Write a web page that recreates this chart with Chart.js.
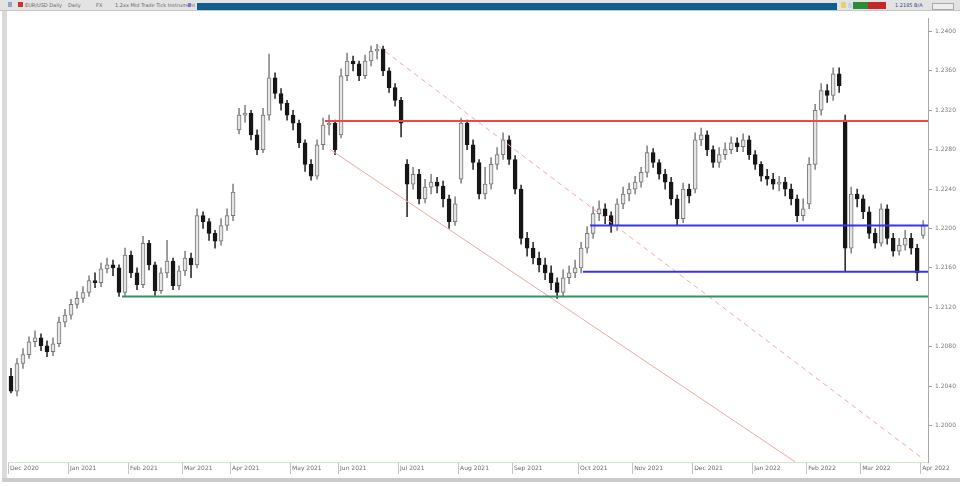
<!DOCTYPE html>
<html>
<head>
<meta charset="utf-8">
<script src="https://cdn.jsdelivr.net/npm/chart.js@4.4.1/dist/chart.umd.min.js"></script>
<style>
    body { margin: 0; width: 960px; height: 487px; background: #fff; position: relative; overflow: hidden; font-family: "DejaVu Sans", sans-serif; }
    #topbar { position: absolute; left: 0; top: 0; width: 960px; height: 10px; background: #e3e3e3; border-bottom: 1px solid #c6c6c6; }
    #topbar span { position: absolute; top: 2px; font-size: 5px; line-height: 6px; color: #666; white-space: nowrap; }
    .blk { position: absolute; }
    #leftEdge { position: absolute; left: 2px; top: 11px; width: 5px; height: 468px; background: #dadada; }
    #bottomEdge { position: absolute; left: 2px; top: 478px; width: 958px; height: 4px; background: #cbcbcb; }
    #wrap { position: absolute; left: 8px; top: 12px; width: 950px; height: 466px; }
</style>
</head>
<body>
<div id="topbar">
    <div class="blk" style="left:8px;top:2px;width:4px;height:5px;background:#8fa8c8"></div>
    <div class="blk" style="left:18px;top:2px;width:5px;height:5px;background:#d03030"></div>
    <span style="left:25px">EUR/USD Daily</span>
    <span style="left:68px">Daily</span>
    <span style="left:96px">FX</span>
    <span style="left:115px">1.2xx Mid Trade Tick Instrument</span>
    <div class="blk" style="left:188px;top:3px;width:3px;height:4px;background:#7a7acc"></div>
    <div class="blk" style="left:197px;top:3px;width:640px;height:7px;background:#0f5f8f"></div>
    <div class="blk" style="left:841px;top:2px;width:5px;height:6px;background:#e8d070"></div>
    <div class="blk" style="left:848px;top:3px;width:4px;height:5px;background:#bcd8e8"></div>
    <div class="blk" style="left:853px;top:2px;width:15px;height:7px;background:#2c8c3c"></div>
    <div class="blk" style="left:868px;top:2px;width:18px;height:7px;background:#c42828"></div>
    <span style="left:895px;color:#3a4a8a">1.2185 B/A</span>
    <div class="blk" style="left:932px;top:3px;width:20px;height:5px;border:1px solid #aaa;background:#eee"></div>
</div>
<div id="leftEdge"></div>
<div id="bottomEdge"></div>
<div id="wrap"><canvas id="chart" width="950" height="466"></canvas></div>
<script>
// prices kept in pips: 12040 = 1.2040
const opens = [
    12050,12035,12063,12072,12085,12089,12081,12075,12083,12105,
    12112,12123,12129,12135,12147,12145,12159,12163,12160,12135,
    12173,12155,12143,12185,12163,12137,12155,12167,12142,12157,
    12170,12163,12213,12207,12195,12187,12203,12213,12300,12315,
    12317,12295,12280,12315,12353,12337,12327,12315,12307,12287,
    12265,12253,12285,12305,12307,12295,12355,12370,12367,12355,
    12370,12380,12382,12360,12343,12330,12265,12245,12255,12230,
    12242,12247,12243,12230,12207,12250,12307,12285,12267,12235,
    12245,12265,12275,12290,12270,12240,12190,12180,12170,12163,
    12155,12145,12135,12150,12155,12160,12180,12195,12215,12220,
    12213,12203,12225,12235,12240,12247,12257,12277,12267,12255,
    12247,12230,12210,12240,12240,12290,12295,12280,12267,12275,
    12280,12287,12283,12290,12275,12265,12253,12250,12245,12247,
    12240,12230,12213,12225,12265,12320,12340,12335,12357,12310,
    12180,12235,12230,12217,12195,12185,12220,12190,12177,12183,
    12190,12180,12193
];
const highs = [
    12058,12068,12078,12090,12096,12093,12086,12089,12110,12118,
    12128,12136,12141,12152,12155,12165,12170,12168,12163,12180,
    12177,12160,12192,12188,12166,12160,12188,12170,12162,12177,
    12175,12220,12217,12210,12198,12210,12220,12245,12322,12325,
    12320,12300,12322,12377,12358,12342,12330,12320,12310,12290,
    12270,12290,12312,12315,12310,12362,12378,12375,12370,12376,
    12385,12387,12385,12363,12347,12333,12270,12262,12260,12250,
    12255,12252,12248,12234,12232,12312,12310,12290,12270,12262,
    12272,12282,12297,12294,12274,12244,12196,12186,12176,12170,
    12162,12150,12158,12162,12168,12186,12202,12222,12228,12225,
    12217,12230,12242,12246,12253,12262,12284,12281,12270,12260,
    12252,12234,12246,12245,12297,12302,12299,12284,12282,12287,
    12293,12292,12296,12294,12279,12268,12260,12256,12253,12252,
    12245,12234,12230,12272,12326,12347,12346,12363,12363,12315,
    12242,12240,12234,12222,12200,12225,12224,12195,12190,12198,
    12195,12184,12208
];
const lows = [
    12033,12030,12058,12068,12080,12076,12070,12071,12080,12100,
    12108,12119,12125,12131,12140,12141,12155,12152,12131,12132,
    12150,12138,12140,12158,12132,12134,12150,12138,12138,12152,
    12150,12160,12200,12188,12180,12183,12198,12208,12296,12308,
    12290,12275,12277,12310,12332,12320,12310,12300,12282,12258,
    12249,12250,12280,12295,12275,12292,12350,12360,12350,12352,
    12365,12372,12355,12338,12324,12293,12212,12240,12225,12226,
    12235,12236,12222,12200,12203,12246,12280,12260,12230,12230,
    12240,12260,12270,12265,12235,12184,12172,12164,12156,12148,
    12138,12129,12131,12144,12150,12155,12175,12190,12208,12205,
    12196,12198,12220,12228,12235,12242,12252,12262,12250,12240,
    12224,12203,12206,12226,12236,12284,12274,12262,12262,12270,
    12276,12278,12278,12270,12260,12248,12244,12240,12238,12233,
    12224,12207,12208,12220,12260,12315,12328,12330,12338,12157,
    12175,12222,12210,12190,12180,12182,12184,12172,12173,12178,
    12174,12147,12190
];
const closes = [
    12035,12063,12072,12085,12089,12081,12075,12083,12105,12112,
    12123,12129,12135,12147,12145,12159,12163,12160,12135,12173,
    12155,12143,12185,12163,12137,12155,12167,12142,12157,12170,
    12163,12213,12207,12195,12187,12203,12213,12237,12315,12317,
    12295,12280,12315,12353,12337,12327,12315,12307,12287,12265,
    12253,12285,12305,12307,12280,12355,12370,12367,12355,12370,
    12380,12382,12360,12343,12330,12307,12245,12255,12230,12242,
    12247,12243,12230,12207,12225,12307,12285,12267,12235,12245,
    12265,12275,12290,12270,12240,12190,12180,12170,12163,12155,
    12145,12135,12150,12155,12160,12180,12195,12215,12220,12213,
    12203,12225,12235,12240,12247,12257,12277,12267,12255,12247,
    12230,12210,12240,12233,12290,12295,12280,12267,12275,12280,
    12287,12283,12290,12275,12265,12253,12250,12245,12247,12240,
    12230,12213,12220,12265,12320,12340,12335,12357,12345,12180,
    12235,12230,12217,12195,12185,12220,12190,12177,12183,12190,
    12180,12155,12203
];

const monthStarts = [0, 10, 20, 29, 37, 47, 55, 65, 75, 84, 95, 104, 114, 124, 133, 142, 152];
const monthLabels = ['Dec 2020', 'Jan 2021', 'Feb 2021', 'Mar 2021', 'Apr 2021', 'May 2021', 'Jun 2021',
    'Jul 2021', 'Aug 2021', 'Sep 2021', 'Oct 2021', 'Nov 2021', 'Dec 2021', 'Jan 2022', 'Feb 2022',
    'Mar 2022', 'Apr 2022'];
const priceTicks = [12000, 12040, 12080, 12120, 12160, 12200, 12240, 12280, 12320, 12360, 12400];

// horizontal support / resistance levels: value and first bar
const levelValues = [12309, 12203, 12156, 12131];
const levelStarts = [52.3, 96.5, 95.3, 18.5];

// channel lines
const lowerTrendX = [53.2, 130.7];
const lowerTrendY = [12280, 11963];
const upperTrendX = [61.2, 151.8];
const upperTrendY = [12385, 11967];

const xMax = 152.8;
const levelColors = ['#f04848', '#3434f0', '#3434f0', '#2e9460'];

const lineSets = levelValues.map((v, i) => ({
    type: 'line',
    data: [{ x: levelStarts[i], y: v }, { x: xMax, y: v }],
    borderColor: levelColors[i],
    borderWidth: 2,
    pointRadius: 0,
    order: 0
}));

lineSets.push({
    type: 'line',
    data: lowerTrendX.map((x, i) => ({ x: x, y: lowerTrendY[i] })),
    borderColor: '#f3a4a4',
    borderWidth: 1,
    pointRadius: 0,
    order: 1
});
lineSets.push({
    type: 'line',
    data: upperTrendX.map((x, i) => ({ x: x, y: upperTrendY[i] })),
    borderColor: '#f4a8a8',
    borderWidth: 1,
    borderDash: [5, 4],
    pointRadius: 0,
    order: 1
});

const isUp = closes.map((c, i) => c >= opens[i]);

const bodies = {
    type: 'bar',
    data: closes.map((c, i) => ({ x: i, y: [opens[i], c] })),
    backgroundColor: isUp.map(u => u ? '#e4e4e4' : '#161616'),
    borderColor: isUp.map(u => u ? '#767676' : '#161616'),
    borderWidth: 1,
    borderSkipped: false,
    barThickness: 4,
    minBarLength: 1,
    grouped: false,
    order: 2
};

const wicks = {
    type: 'bar',
    data: highs.map((h, i) => ({ x: i, y: [lows[i], h] })),
    backgroundColor: isUp.map(u => u ? '#8a8a8a' : '#333333'),
    barThickness: 1,
    grouped: false,
    order: 3
};

new Chart(document.getElementById('chart'), {
    type: 'bar',
    data: { datasets: [...lineSets, bodies, wicks] },
    options: {
        responsive: false,
        animation: false,
        devicePixelRatio: 1,
        layout: { padding: 0, autoPadding: false },
        plugins: { legend: { display: false }, tooltip: { enabled: false } },
        scales: {
            x: {
                type: 'linear',
                min: -0.5,
                max: xMax,
                offset: false,
                afterBuildTicks: s => { s.ticks = monthStarts.map(v => ({ value: v - 0.5 })); },
                afterFit: s => { s.height = 16; },
                grid: { offset: false, drawOnChartArea: false, tickLength: 12, color: '#c4c4c4' },
                border: { color: '#cfe6cf' },
                ticks: {
                    align: 'start',
                    padding: -9,
                    labelOffset: 2,
                    autoSkip: false,
                    maxRotation: 0,
                    color: '#6a6a6a',
                    font: { size: 6, family: 'DejaVu Sans' },
                    callback: (v, i) => monthLabels[i]
                }
            },
            y: {
                position: 'right',
                min: 11963,
                max: 12413,
                afterBuildTicks: s => { s.ticks = priceTicks.map(v => ({ value: v })); },
                afterFit: s => { s.width = 30; },
                grid: { drawOnChartArea: false, tickLength: 4, color: '#9a9a9a' },
                border: { color: '#a8a8a8' },
                ticks: {
                    padding: 3,
                    color: '#7a7a7a',
                    font: { size: 6, family: 'DejaVu Sans' },
                    callback: v => (v / 10000).toFixed(4)
                }
            }
        }
    }
});
</script>
</body>
</html>
